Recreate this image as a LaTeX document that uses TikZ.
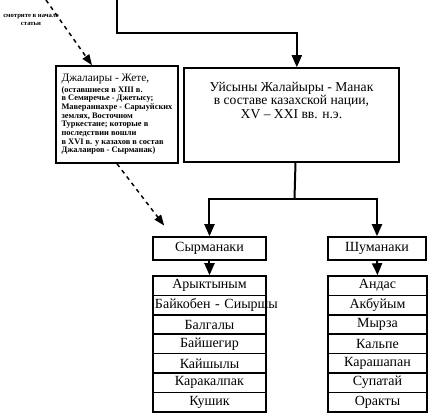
\documentclass[tikz,border=0pt]{standalone}
\usepackage{fontspec}
\setmainfont{Liberation Serif}
\usetikzlibrary{arrows.meta, positioning}

\begin{document}
\begin{tikzpicture}[
    x=0.75pt,
    y=-0.75pt,
    font=\fontsize{10.5}{11}\selectfont,
    box/.style={draw, line width=1.2pt, inner sep=1.5pt, align=center},
    row/.style={box, minimum height=14.55pt},
    wire/.style={line width=1.5pt},
    tip/.style={-{Triangle[length=9pt,width=7.5pt]}},
    hint/.style={dashed, line width=1.1pt, -{Triangle[length=8pt,width=6pt]}}
]
\useasboundingbox (0,0) rectangle (430,418);

% --- Note ---
\node[font=\fontsize{5}{6.5}\selectfont\bfseries, align=center] (note) at (31,20)
    {смотрите в начале\\статьи};

% --- Boxes ---
\node[box, minimum width=161.25pt, minimum height=70.5pt, text depth=22pt,
      font=\fontsize{10.2}{10}\selectfont] (main) at (291.5,115)
    {Уйсыны Жалайыры - Манак\\в составе казахской нации,\\XV -- XXI вв. н.э.};

\node[box, minimum width=91.5pt, minimum height=72.75pt, align=left, inner sep=2pt,
      font=\fontsize{6.3}{6.5}\selectfont\bfseries] (jal) at (117,114.5)
    {{\fontsize{8.5}{6.5}\selectfont\mdseries Джалаиры - Жете,}\\[1.5pt]
     (оставшиеся в XIII в.\\
     в Семиречье - Джетысу;\\
     Мавераннахре - Сарыуйских\\
     землях, Восточном\\
     Туркестане; которые в\\
     последствии вошли\\
     в XVI в. у казахов в состав\\
     Джалаиров - Сырманак)};

\node[box, minimum width=84.75pt, minimum height=17.25pt] (syr) at (209.5,248.5) {Сырманаки};
\node[box, minimum width=73.5pt, minimum height=17.25pt] (shu) at (377,248.5) {Шуманаки};

% --- Lists ---
\foreach \name [count=\i] in {Арыктыным, Байкобен - Сиыршы, Балгалы, Байшегир,
                              Кайшылы, Каракалпак, Кушик}
    \node[row, minimum width=84.75pt, text width=81.75pt] (ls\i) at (209.5,{285.7+19.4*(\i-1)}) {\mbox{\name}};

\foreach \name [count=\i] in {Андас, Акбуйым, Мырза, Кальпе,
                              Карашапан, Супатай, Оракты}
    \node[row, minimum width=74.25pt, text width=71.25pt] (rs\i) at (377.5,{285.7+19.4*(\i-1)}) {\mbox{\name}};

% --- Connectors ---
\coordinate (topin) at (117,0);
\coordinate (topbend) at (117,33);
\draw[wire, tip] (topin) -- (topbend) -| ([xshift=4pt]main.north);

\coordinate (split) at (294.5,199);
\draw[wire] ([xshift=3pt]main.south) -- (split);
\draw[wire, tip] (split) -| (syr.north);
\draw[wire, tip] (split) -| (shu.north);

\draw[wire, tip] (syr.south) -- (ls1.north);
\draw[wire, tip] (shu.south) -- (rs1.north);

% --- Dashed hints ---
\coordinate (hintin) at (46,0);
\draw[hint] (hintin) -- ([xshift=-18.75pt]jal.north);
\draw[hint] (jal.south) -- ([shift={(9pt,8pt)}]syr.north west);
\end{tikzpicture}
\end{document}
